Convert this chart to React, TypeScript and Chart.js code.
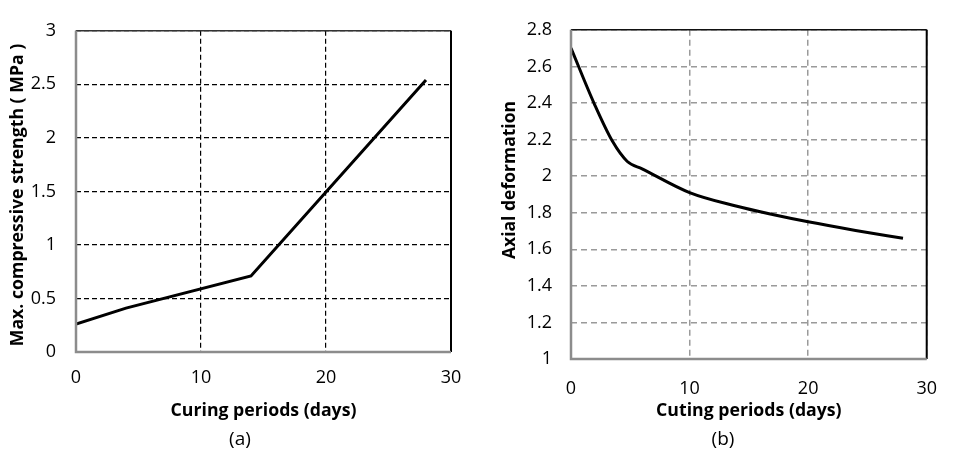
import React, { useEffect, useRef } from "react";
import { Chart, registerables } from "chart.js";

Chart.register(...registerables);

// (a) compressive strength vs curing period
const strengthDays = [0, 4, 14, 28];
const strengthMPa = [0.26, 0.41, 0.71, 2.54];

// (b) axial deformation vs curing period
const deformDays = [0, 2, 3.5, 4.75, 6, 10, 14, 17, 20, 24, 28];
const deformValues = [2.7, 2.39, 2.19, 2.08, 2.04, 1.91, 1.835, 1.79, 1.75, 1.703, 1.66];

const xTicksA = { min: 0, max: 30, step: 10 };
const yTicksA = { min: 0, max: 3, step: 0.5 };
const xTicksB = { min: 0, max: 30, step: 10 };
const yTicksB = { min: 1, max: 2.8, step: 0.2 };

const FONT = "'Open Sans', sans-serif";

// Frame: gray left/bottom axes, dark top/right edges, plus the rotated y title
const framePlugin = {
  id: "frame",
  afterDraw(chart: any, _args: any, opts: any) {
    const { ctx, chartArea: a } = chart;
    ctx.save();
    ctx.setLineDash([]);
    ctx.strokeStyle = opts.topColor || "#222";
    ctx.lineWidth = 1.5;
    ctx.beginPath();
    ctx.moveTo(a.left, a.top);
    ctx.lineTo(a.right, a.top);
    ctx.stroke();
    ctx.strokeStyle = "#000";
    ctx.lineWidth = 2;
    ctx.beginPath();
    ctx.moveTo(a.right, a.top);
    ctx.lineTo(a.right, a.bottom);
    ctx.stroke();
    ctx.strokeStyle = "#8c8c8c";
    ctx.lineWidth = 2.5;
    ctx.beginPath();
    ctx.moveTo(a.left, a.top);
    ctx.lineTo(a.left, a.bottom);
    ctx.lineTo(a.right, a.bottom);
    ctx.stroke();

    ctx.translate(opts.titleX, opts.titleY);
    ctx.rotate(-Math.PI / 2);
    ctx.fillStyle = "#000";
    ctx.font = `bold ${opts.titleSize}px ${FONT}`;
    ctx.textAlign = "center";
    ctx.textBaseline = "middle";
    ctx.fillText(opts.title, 0, 0);
    ctx.restore();
  },
};

type PanelSpec = {
  xs: number[];
  ys: number[];
  xT: { min: number; max: number; step: number };
  yT: { min: number; max: number; step: number };
  xTitle: string;
  yTitle: string;
  yTitleSize: number;
  yTitleX: number;
  yTitleY: number;
  gridColor: string;
  gridDash: number[];
  gridWidth: number;
  smooth: boolean;
  padLeft: number;
  yAxisWidth: number;
  xAxisHeight: number;
  padTop: number;
  padRight: number;
  padBottom: number;
  xTickPad: number;
  yTickPad: number;
  topColor: string;
};

const fmt = (v: any) => String(Math.round(Number(v) * 10) / 10);

function Panel({ spec }: { spec: PanelSpec }) {
  const ref = useRef<HTMLCanvasElement | null>(null);
  useEffect(() => {
    if (!ref.current) return;
    const s = spec;
    const chart = new Chart(ref.current, {
      type: "line",
      data: {
        datasets: [
          {
            data: s.xs.map((x, i) => ({ x, y: s.ys[i] })),
            borderColor: "#000",
            borderWidth: 3,
            pointRadius: 0,
            tension: s.smooth ? 0.4 : 0,
            cubicInterpolationMode: s.smooth ? "monotone" : "default",
            fill: false,
          },
        ],
      },
      options: {
        animation: false,
        responsive: false,
        devicePixelRatio: 1,
        layout: {
          padding: { left: s.padLeft, top: s.padTop, right: s.padRight, bottom: s.padBottom },
        },
        plugins: {
          legend: { display: false },
          tooltip: { enabled: false },
          frame: {
            topColor: s.topColor,
            title: s.yTitle,
            titleSize: s.yTitleSize,
            titleX: s.yTitleX,
            titleY: s.yTitleY,
          },
        } as any,
        scales: {
          x: {
            type: "linear",
            min: s.xT.min,
            max: s.xT.max,
            afterFit: (sc: any) => {
              sc.height = s.xAxisHeight;
            },
            ticks: {
              stepSize: s.xT.step,
              color: "#000",
              font: { family: FONT, size: 18 },
              padding: s.xTickPad,
              maxRotation: 0,
              callback: fmt,
            },
            grid: { color: s.gridColor, lineWidth: s.gridWidth, drawTicks: false },
            border: { display: false, dash: s.gridDash },
            title: {
              display: true,
              text: s.xTitle,
              color: "#000",
              font: { family: FONT, size: 17.7, weight: "bold" },
              padding: 0,
            },
          },
          y: {
            type: "linear",
            min: s.yT.min,
            max: s.yT.max,
            afterFit: (sc: any) => {
              sc.width = s.yAxisWidth;
            },
            ticks: {
              stepSize: s.yT.step,
              color: "#000",
              font: { family: FONT, size: 18 },
              padding: s.yTickPad,
              callback: fmt,
            },
            grid: { color: s.gridColor, lineWidth: s.gridWidth, drawTicks: false },
            border: { display: false, dash: s.gridDash },
          },
        },
      },
      plugins: [framePlugin],
    });
    return () => chart.destroy();
  }, [spec]);
  return <canvas ref={ref} width={478} height={451} style={{ display: "block" }} />;
}

const specA: PanelSpec = {
  xs: strengthDays,
  ys: strengthMPa,
  xT: xTicksA,
  yT: yTicksA,
  xTitle: "Curing periods (days)",
  yTitle: "Max. compressive strength ( MPa )",
  yTitleSize: 17.7,
  yTitleX: 18,
  yTitleY: 195,
  gridColor: "#000",
  gridDash: [5, 3],
  gridWidth: 1.2,
  smooth: false,
  padLeft: 8,
  yAxisWidth: 68,
  xAxisHeight: 70,
  padTop: 17,
  padRight: 27,
  padBottom: 29,
  xTickPad: 15,
  yTickPad: 20,
  topColor: "#333",
};

const specB: PanelSpec = {
  xs: deformDays,
  ys: deformValues,
  xT: xTicksB,
  yT: yTicksB,
  xTitle: "Cuting periods (days)",
  yTitle: "Axial deformation",
  yTitleSize: 17.5,
  yTitleX: 32,
  yTitleY: 180,
  gridColor: "#9a9a9a",
  gridDash: [6, 4],
  gridWidth: 1.5,
  smooth: true,
  padLeft: 21,
  yAxisWidth: 72,
  xAxisHeight: 63,
  padTop: 16,
  padRight: 15,
  padBottom: 29,
  xTickPad: 19,
  yTickPad: 19,
  topColor: "#111",
};

const captionStyle: React.CSSProperties = {
  position: "absolute",
  top: 426,
  font: `19px ${FONT}`,
  color: "#000",
  transform: "translateX(-50%)",
  whiteSpace: "nowrap",
  lineHeight: "24px",
};

export default function App() {
  return (
    <div style={{ position: "fixed", left: 0, top: 0, width: 957, height: 451, background: "#fff" }}>
      <div style={{ position: "absolute", left: 0, top: 0 }}>
        <Panel spec={specA} />
      </div>
      <div style={{ position: "absolute", left: 478, top: 0 }}>
        <Panel spec={specB} />
      </div>
      <div style={{ ...captionStyle, left: 240 }}>(a)</div>
      <div style={{ ...captionStyle, left: 723 }}>(b)</div>
    </div>
  );
}
